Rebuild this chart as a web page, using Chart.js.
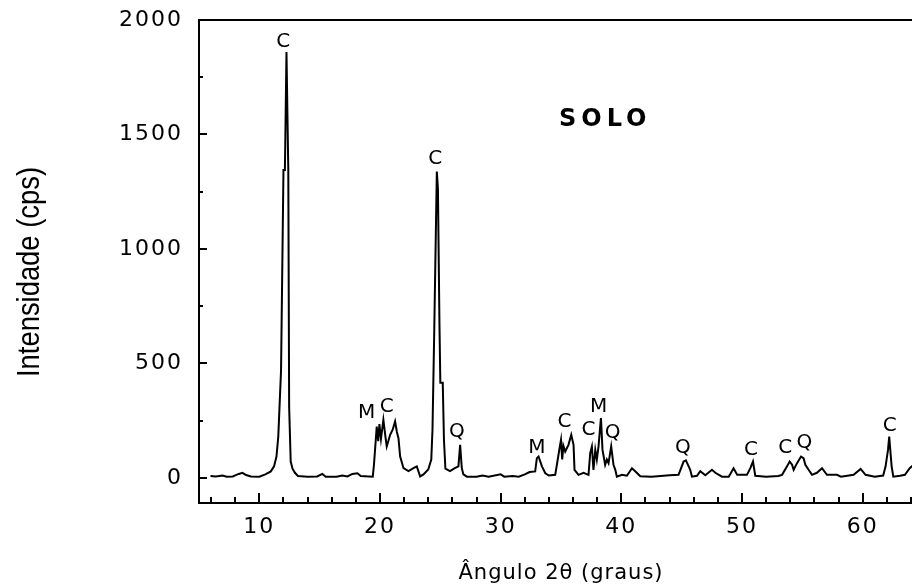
<!DOCTYPE html>
<html><head><meta charset="utf-8">
<script src="https://cdn.jsdelivr.net/npm/chart.js@4"></script>
<style>html,body{margin:0;padding:0;background:#fff;overflow:hidden;width:912px;height:588px}canvas{display:block}</style>
</head><body><canvas id="c" width="930" height="588"></canvas>
<script>
const angles=[5.95,6.4,6.95,7.3,7.8,8.05,8.3,8.6,8.9,9.3,10.0,10.5,10.95,11.22,11.42,11.57,11.8,12.0,12.12,12.25,12.32,12.4,12.47,12.6,12.75,12.95,13.2,14.0,14.8,15.22,15.5,16.4,16.88,17.3,17.71,18.13,18.4,19.4,19.5,19.73,19.85,19.95,20.08,20.28,20.45,20.56,20.84,21.05,21.25,21.4,21.53,21.67,21.95,22.36,22.77,23.05,23.33,23.6,24.0,24.25,24.35,24.5,24.71,24.8,24.93,25.0,25.2,25.3,25.42,25.8,26.2,26.5,26.64,26.78,26.91,27.2,28.0,28.5,29.0,30.0,30.3,31.0,31.5,32.0,32.4,32.86,33.0,33.14,33.42,33.7,34.0,34.52,34.66,34.85,35.0,35.1,35.2,35.35,35.62,35.85,36.04,36.12,36.45,36.87,37.28,37.42,37.56,37.69,37.84,37.97,38.11,38.31,38.44,38.66,38.8,38.94,39.16,39.35,39.5,39.63,40.05,40.46,40.88,41.15,41.57,42.5,43.5,44.0,44.74,45.16,45.35,45.71,45.85,46.27,46.54,46.96,47.51,47.79,48.34,48.9,49.3,49.6,50.41,50.69,50.91,51.1,52.0,53.0,53.32,53.73,53.95,54.15,54.28,54.56,54.89,55.1,55.25,55.52,55.8,56.21,56.63,57.04,57.87,58.2,59.25,59.83,60.24,61.0,61.7,61.9,62.1,62.2,62.3,62.4,62.54,63.1,63.5,63.9,64.3];
const counts=[8,6,10,5,6,12,17,22,12,6,5,15,28,50,93,180,470,1345,1345,1860,1615,1345,311,71,40,22,8,5,6,17,5,5,10,6,17,20,8,5,57,224,160,235,170,253,180,137,188,210,246,200,173,93,42,29,42,50,6,15,36,80,210,655,1338,1265,661,415,415,166,40,29,42,50,144,42,15,5,5,10,5,15,5,8,5,15,25,28,86,93,50,20,10,13,57,120,166,80,140,115,144,188,144,35,13,22,13,108,137,35,122,80,137,261,122,57,80,64,137,57,35,5,13,9,42,29,7,5,9,11,13,71,76,35,5,9,29,11,35,22,5,5,42,13,13,42,71,9,5,8,13,50,71,57,35,64,93,86,57,35,13,22,42,13,13,5,13,39,13,5,10,50,122,180,115,50,5,9,13,42,60];
const xTicks=[10,20,30,40,50,60];
const yTicks=[0,500,1000,1500,2000];
const yTickLabels=['0','500','1000','1500','2000'];
const peakLabels=['C','C','M','C','Q','M','C','C','M','Q','Q','C','C','Q','C'];
const peakAngles=[11.99,24.57,18.9,20.56,26.37,33.0,35.29,37.28,38.11,39.27,45.1,50.75,53.59,55.17,62.24];
const peakHeights=[1905,1392,282,311,202,130,246,210,311,195,130,122,130,151,227];
const sampleName='SOLO', sampleAngle=38.5, sampleHeight=1563;
const xTitle='Ângulo 2θ (graus)';
const yTitle='Intensidade (cps)';

const deco={
 id:'deco',
 beforeUpdate(c){c.ctx.letterSpacing='2px';},
 beforeDraw(c){c.ctx.letterSpacing='2px';},
 afterDraw(c){
  const ctx=c.ctx, a=c.chartArea, xs=c.scales.x, ys=c.scales.y;
  ctx.save();
  ctx.letterSpacing='0px';
  ctx.strokeStyle='#000'; ctx.lineWidth=2; ctx.lineCap='square';
  ctx.beginPath();
  ctx.moveTo(a.left,a.bottom);ctx.lineTo(a.left,a.top);ctx.lineTo(a.right,a.top);
  ctx.moveTo(a.left,a.bottom);ctx.lineTo(a.right,a.bottom);
  ctx.stroke();
  ctx.lineCap='butt';
  ctx.beginPath();
  for(let v=6;v<=64;v+=2){
   const px=Math.round(xs.getPixelForValue(v));
   const L=(v%10===0)?10:6;
   ctx.moveTo(px,a.bottom);ctx.lineTo(px,a.bottom-L);
  }
  for(let v=0;v<=2000;v+=250){
   const py=Math.round(ys.getPixelForValue(v));
   const L=(v%500===0)?8:4;
   ctx.moveTo(a.left,py);ctx.lineTo(a.left+L,py);
  }
  ctx.stroke();
  ctx.fillStyle='#000';
  ctx.textAlign='center';ctx.textBaseline='middle';
  ctx.font='20px "DejaVu Sans"';
  peakLabels.forEach((t,i)=>{
   ctx.fillText(t,xs.getPixelForValue(peakAngles[i]),ys.getPixelForValue(peakHeights[i]));
  });
  ctx.font='bold 24px "DejaVu Sans"';
  ctx.letterSpacing='5px';
  ctx.fillText(sampleName,xs.getPixelForValue(sampleAngle)+2,ys.getPixelForValue(sampleHeight));
  ctx.font='21px "DejaVu Sans"';
  ctx.letterSpacing='1px';
  ctx.fillText(xTitle,(a.left+a.right)/2,574);
  ctx.letterSpacing='0px';
  ctx.font='32px "Liberation Sans"';
  const w=ctx.measureText(yTitle).width;
  ctx.translate(30,272);ctx.rotate(-Math.PI/2);ctx.scale(210/w,1);
  ctx.fillText(yTitle,0,0);
  ctx.restore();
 }
};

new Chart(document.getElementById('c'),{
 type:'line',
 data:{datasets:[{data:angles.map((a,i)=>({x:a,y:counts[i]})),borderColor:'#000',borderWidth:2,pointRadius:0,tension:0,fill:false}]},
 options:{
  responsive:false,animation:false,
  layout:{padding:{left:0,right:7,top:20,bottom:0}},
  plugins:{legend:{display:false},tooltip:{enabled:false}},
  scales:{
   x:{type:'linear',min:5,max:65,
    afterBuildTicks:s=>{s.ticks=xTicks.map(v=>({value:v}));},
    afterFit:s=>{s.height=85;s.paddingLeft=0;s.paddingRight=0;},
    grid:{display:false},border:{display:false},
    ticks:{autoSkip:false,maxRotation:0,color:'#000',padding:3,font:{family:'DejaVu Sans',size:22},callback:v=>String(v)}},
   y:{type:'linear',min:-110,max:2000,
    afterBuildTicks:s=>{s.ticks=yTicks.map(v=>({value:v}));},
    afterFit:s=>{s.width=199;s.paddingTop=0;s.paddingBottom=0;},
    grid:{display:false},border:{display:false},
    ticks:{autoSkip:false,color:'#000',padding:8,font:{family:'DejaVu Sans',size:22},callback:(v,i)=>yTickLabels[i]}}
  }
 },
 plugins:[deco]
});
</script></body></html>
